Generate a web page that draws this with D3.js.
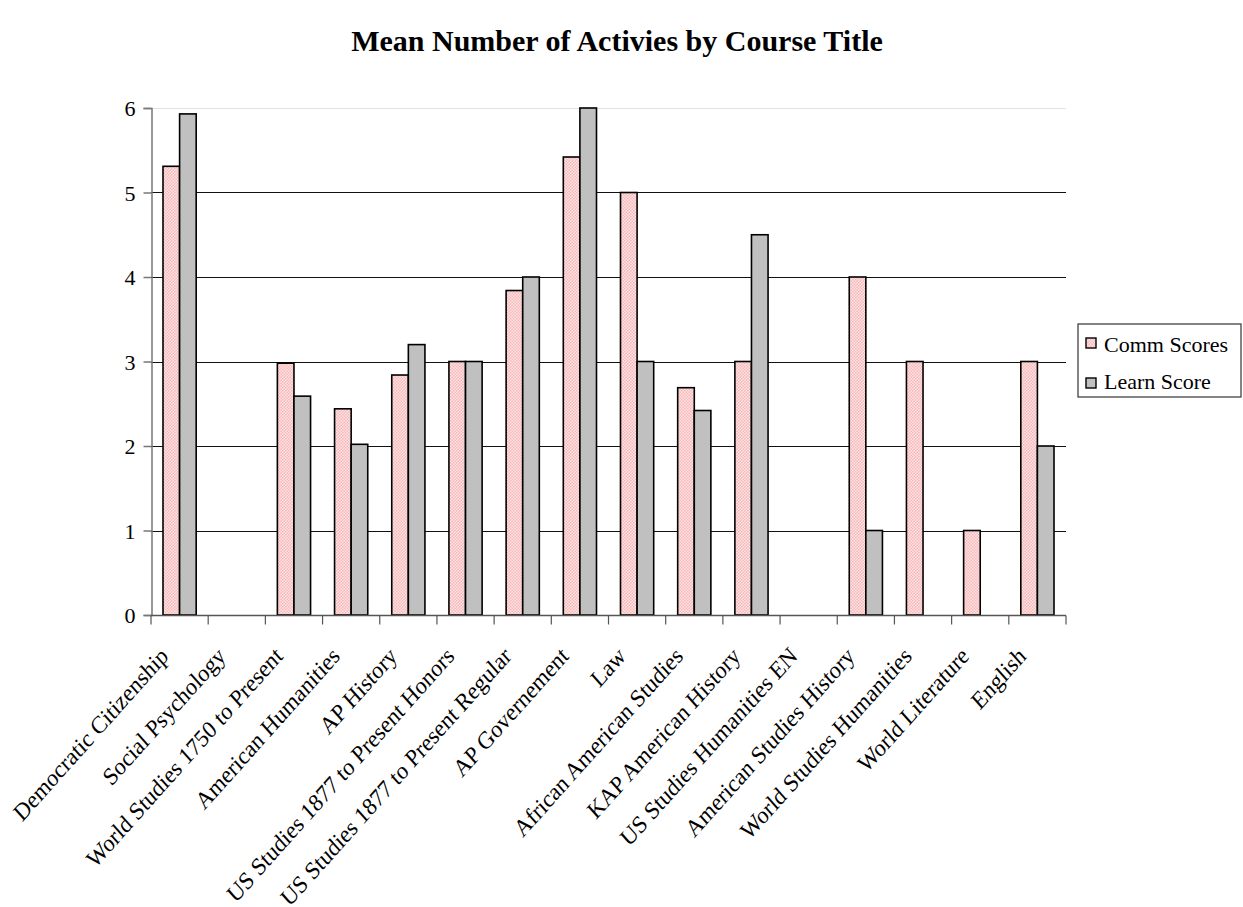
<!DOCTYPE html>
<html>
<head>
<meta charset="utf-8">
<script src="https://cdn.jsdelivr.net/npm/d3@7"></script>
<style>
  body { margin: 0; background: #fff; }
  text { font-family: "Liberation Serif", "Times New Roman", serif; }
</style>
</head>
<body>
<div id="viz"></div>
<script>
var categories = ["Democratic Citizenship", "Social Psychology", "World Studies 1750 to Present",
  "American Humanities", "AP History", "US Studies 1877 to Present Honors",
  "US Studies 1877 to Present Regular", "AP Governement", "Law", "African American Studies",
  "KAP American History", "US Studies Humanities EN", "American Studies History",
  "World Studies Humanities", "World Literature", "English"]
var commScores = [5.31, null, 2.98, 2.44, 2.84, 3, 3.84, 5.42, 5, 2.69, 3, null, 4, 3, 1, 3]
var learnScore = [5.93, null, 2.59, 2.02, 3.2, 3, 4, 6, 3, 2.42, 4.5, null, 1, null, null, 2]
var seriesNames = ["Comm Scores", "Learn Score"]
var yTicks = [0, 1, 2, 3, 4, 5, 6]

var width = 1243,
    height = 907;
var plotLeft = 151, plotRight = 1066, plotTop = 108, plotBottom = 615;

var svg = d3.select("#viz")
  .append("svg")
    .attr("width", width)
    .attr("height", height);

var defs = svg.append("defs");
var pat = defs.append("pattern")
    .attr("id", "pink")
    .attr("width", 3)
    .attr("height", 3)
    .attr("patternUnits", "userSpaceOnUse");
pat.append("rect").attr("width", 3).attr("height", 3).attr("fill", "#fde4e4");
pat.append("rect").attr("width", 1.5).attr("height", 1.5).attr("fill", "#f7b8b8");
pat.append("rect").attr("x", 1.5).attr("y", 1.5).attr("width", 1.5).attr("height", 1.5).attr("fill", "#f7b8b8");

var x = d3.scaleBand().domain(categories).range([plotLeft, plotRight]);
var y = d3.scaleLinear().domain([0, 6]).range([plotBottom, plotTop]);
var inner = d3.scaleBand().domain(seriesNames).range([12, x.bandwidth() - 12]);

svg.append("text")
    .attr("x", 617)
    .attr("y", 51)
    .attr("text-anchor", "middle")
    .style("font-size", "30px")
    .style("font-weight", "bold")
    .text("Mean Number of Activies by Course Title");

// gridlines
svg.append("g").selectAll("line")
  .data(yTicks.filter(function(d) { return d > 0; }))
  .enter().append("line")
    .attr("x1", plotLeft).attr("x2", plotRight)
    .attr("y1", function(d) { return Math.round(y(d)) + 0.5; })
    .attr("y2", function(d) { return Math.round(y(d)) + 0.5; })
    .attr("stroke", function(d) { return d === 6 ? "#e2e2e2" : "#111"; })
    .attr("stroke-width", 1.2);

// bars
var fills = ["url(#pink)", "#c0c0c0"];
[commScores, learnScore].forEach(function(vals, si) {
  svg.append("g").selectAll("rect")
    .data(vals.map(function(v, i) { return {c: categories[i], v: v}; }).filter(function(d) { return d.v !== null; }))
    .enter().append("rect")
      .attr("x", function(d) { return x(d.c) + inner(seriesNames[si]); })
      .attr("y", function(d) { return y(d.v); })
      .attr("width", inner.bandwidth())
      .attr("height", function(d) { return plotBottom - y(d.v); })
      .attr("fill", fills[si])
      .attr("stroke", "#000")
      .attr("stroke-width", 1.6);
});

// y axis
var yAxis = svg.append("g")
    .attr("transform", "translate(" + (plotLeft + 0.5) + ",0)")
    .call(d3.axisLeft(y).tickValues(yTicks).tickSize(8).tickPadding(8).tickFormat(d3.format("d")));
yAxis.selectAll("path, line").attr("stroke", "#777").attr("stroke-width", 1.5);
yAxis.selectAll("text").style("font-size", "22px").attr("fill", "#000").attr("dy", "0.35em");

// x axis
var xg = svg.append("g").attr("transform", "translate(0," + (plotBottom + 0.5) + ")");
xg.append("line").attr("x1", plotLeft).attr("x2", plotRight).attr("stroke", "#555").attr("stroke-width", 1.5);
xg.selectAll("line.tk")
  .data(d3.range(categories.length + 1))
  .enter().append("line")
    .attr("class", "tk")
    .attr("x1", function(i) { return plotLeft + i * x.step(); })
    .attr("x2", function(i) { return plotLeft + i * x.step(); })
    .attr("y1", 0).attr("y2", 9)
    .attr("stroke", "#555").attr("stroke-width", 1.2);
xg.selectAll("text.lbl")
  .data(categories)
  .enter().append("text")
    .attr("class", "lbl")
    .attr("transform", function(d) {
      return "translate(" + (x(d) + x.bandwidth() / 2 - 10) + ",42) scale(1,1.12) rotate(-45)";
    })
    .attr("text-anchor", "end")
    .style("font-size", "22px")
    .text(function(d) { return d; });

// legend
var lg = svg.append("g").attr("transform", "translate(1078,324)");
lg.append("rect").attr("width", 163).attr("height", 73)
    .attr("fill", "#fff").attr("stroke", "#333").attr("stroke-width", 1.2);
seriesNames.forEach(function(n, i) {
  lg.append("rect").attr("x", 8).attr("y", 14 + i * 40).attr("width", 10).attr("height", 10)
    .attr("fill", fills[i]).attr("stroke", "#000").attr("stroke-width", 1.4);
  lg.append("text").attr("x", 26).attr("y", 28 + i * 37).style("font-size", "22px").text(n);
});
</script>
</body>
</html>
